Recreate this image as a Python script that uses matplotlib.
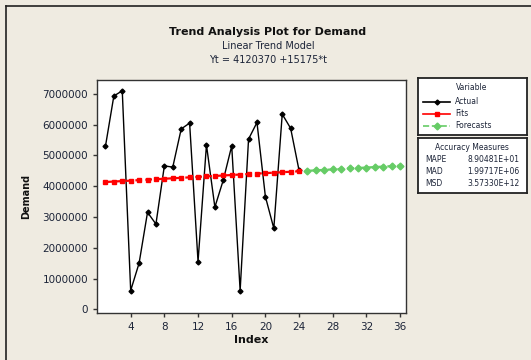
import numpy as np
import matplotlib.pyplot as plt
from matplotlib.ticker import FuncFormatter

# data
index = list(range(1, 25))
demand = [5290000, 6930000, 7100000, 610000, 1500000, 3150000, 2770000, 4660000,
          4620000, 5860000, 6050000, 1550000, 5340000, 3320000, 4200000, 5310000,
          610000, 5530000, 6070000, 3660000, 2630000, 6340000, 5880000, 4510000]
intercept = 4120370
slope = 15175
fc_index = list(range(25, 37))
accuracy_names = ["MAPE", "MAD", "MSD"]
accuracy_values = ["8.90481E+01", "1.99717E+06", "3.57330E+12"]

fits = [intercept + slope * t for t in index]
forecasts = [intercept + slope * t for t in fc_index]

W, H = 531, 360
bg = '#EFEBE1'
txt = '#1c2438'

fig = plt.figure(figsize=(W / 100, H / 100), dpi=100, facecolor=bg)

def box(x0, y0, x1, y1):
    return [x0 / W, 1 - y1 / H, (x1 - x0) / W, (y1 - y0) / H]

# figure border (left and top only visible)
fig.add_artist(plt.Line2D([6 / W, 6 / W], [0, 1 - 6 / H], color='#222222', lw=1.2))
fig.add_artist(plt.Line2D([6 / W, 1], [1 - 6 / H, 1 - 6 / H], color='#222222', lw=1.2))

ax = fig.add_axes(box(97, 80, 406, 313))
ax.set_facecolor('white')
ax.plot(index, demand, color='black', lw=1, marker='D', ms=2.5)
ax.plot(index, fits, color='#FF0000', lw=1.6, ls=(0, (3, 1.5)), marker='s', ms=3.5)
ax.plot(fc_index, forecasts, color='#66CC66', lw=1.6, ls=(0, (3, 1.5)), marker='D', ms=3.5)

ax.set_xlim(0.0, 36.7)
ax.set_ylim(-120000, 7450000)
ax.set_xticks([4, 8, 12, 16, 20, 24, 28, 32, 36])
ax.set_yticks(np.arange(0, 7000001, 1000000))
ax.yaxis.set_major_formatter(FuncFormatter(lambda v, p: '%d' % v))
ax.tick_params(labelsize=7.5, labelcolor=txt, color='#333333', length=3, width=1)
for s in ax.spines.values():
    s.set_color('#333333')
    s.set_linewidth(1)
ax.set_xlabel('Index', fontsize=8, fontweight='bold', color='#111111', labelpad=2)
ax.set_ylabel('Demand', fontsize=7, fontweight='bold', color='#111111', labelpad=8)

fig.text(268 / W, 1 - 32 / H, 'Trend Analysis Plot for Demand', ha='center', va='center',
         fontsize=8, fontweight='bold', color='#111111')
fig.text(268 / W, 1 - 46 / H, 'Linear Trend Model', ha='center', va='center',
         fontsize=7, color=txt)
fig.text(268 / W, 1 - 60 / H, 'Yt = %d +%d*t' % (intercept, slope), ha='center', va='center',
         fontsize=7, color=txt)

# legend box
lg = fig.add_axes(box(418, 78, 527, 135))
lg.set_xlim(418, 527)
lg.set_ylim(135, 78)
lg.set_xticks([])
lg.set_yticks([])
lg.set_facecolor('white')
for s in lg.spines.values():
    s.set_linewidth(1.3)
    s.set_color('#222222')
lg.text(472, 88, 'Variable', ha='center', va='center', fontsize=5.5, color=txt)
entries = [('Actual', 'black', '-', 'D', 2.5, 102),
           ('Fits', '#FF0000', '-', 's', 3.5, 114),
           ('Forecasts', '#66CC66', '--', 'D', 3.5, 126)]
for name, c, ls, m, ms, y in entries:
    lg.plot([423, 450], [y, y], color=c, ls=ls, lw=1.2)
    lg.plot([436.5], [y], color=c, marker=m, ms=ms)
    lg.text(455, y, name, va='center', fontsize=5.5, color=txt)

# accuracy box
ac = fig.add_axes(box(418, 138, 527, 193))
ac.set_xlim(418, 527)
ac.set_ylim(193, 138)
ac.set_xticks([])
ac.set_yticks([])
ac.set_facecolor('white')
for s in ac.spines.values():
    s.set_linewidth(1.3)
    s.set_color('#222222')
ac.text(472, 147, 'Accuracy Measures', ha='center', va='center', fontsize=5.5, color=txt)
for i, (n, v) in enumerate(zip(accuracy_names, accuracy_values)):
    y = 159 + 12.5 * i
    ac.text(425, y, n, va='center', fontsize=5.5, color=txt)
    ac.text(467, y, v, va='center', fontsize=5.5, color=txt)

fig.savefig('out.png', dpi=100, facecolor=bg)
